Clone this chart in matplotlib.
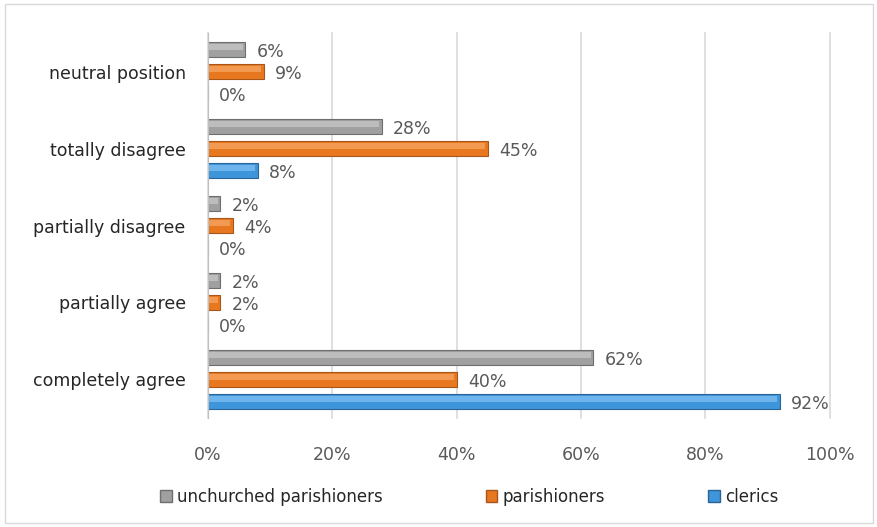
import matplotlib
matplotlib.use("Agg")
import matplotlib.pyplot as plt
import numpy as np
from matplotlib.patches import Patch, Rectangle

categories = ["completely agree", "partially agree", "partially disagree", "totally disagree", "neutral position"]
unchurched = [62, 2, 2, 28, 6]
parishioners = [40, 2, 4, 45, 9]
clerics = [92, 0, 0, 8, 0]
series_names = ["unchurched parishioners", "parishioners", "clerics"]
xticks = [0, 20, 40, 60, 80, 100]

colors = ["#A0A0A0", "#E8781F", "#3E95DA"]
lights = ["#BDBDBD", "#F39A52", "#6DB5EC"]
edges = ["#6E6E6E", "#A9561C", "#2C6496"]

fig = plt.figure(figsize=(8.77, 5.27), dpi=100)
ax = fig.add_axes([0.237, 0.207, 0.709, 0.730])

y = np.arange(len(categories))
off = 0.286
h = 0.2
series = [unchurched, parishioners, clerics]
offsets = [off, 0, -off]
for vals, o, c, lc, e in zip(series, offsets, colors, lights, edges):
    bars = ax.barh(y + o, vals, height=h, color=c, edgecolor=e, linewidth=0.8, zorder=3)
    ax.barh(y + o + h * 0.17, [max(v - 0.4, 0) for v in vals], height=h * 0.36, color=lc,
            linewidth=0, zorder=3.5)
    for b, v in zip(bars, vals):
        ax.text(v + 1.8, b.get_y() + b.get_height() / 2 - 0.03, f"{v}%", va="center", ha="left",
                fontsize=12.5, color="#595959", zorder=4)

ax.set_xlim(0, 100)
ax.set_ylim(-0.5, len(categories) - 0.5)
ax.set_xticks(xticks)
ax.set_xticklabels([f"{t}%" for t in xticks], fontsize=12.5, color="#595959")
ax.set_yticks(y)
ax.set_yticklabels(categories, fontsize=12.5, color="#262626")
ax.tick_params(axis="both", length=0)
ax.tick_params(axis="x", pad=20)
ax.tick_params(axis="y", pad=16)
ax.grid(axis="x", color="#D9D9D9", linewidth=1.2, zorder=0)
for line in ax.get_xgridlines():
    line.set_clip_on(False)
for s in ["top", "right", "bottom"]:
    ax.spines[s].set_visible(False)
ax.spines["left"].set_color("#BFBFBF")
ax.spines["left"].set_zorder(5)

handles = [Patch(facecolor=c, edgecolor=e) for c, e in zip(colors, edges)]
fig.legend(handles, series_names, loc="center", bbox_to_anchor=(0.535, 0.057), ncol=3,
           frameon=False, fontsize=12, handlelength=0.7, handleheight=0.7, handletextpad=0.3,
           columnspacing=6.2, labelcolor="#262626")

fig.patches.append(Rectangle((0.006, 0.008), 0.99, 0.985, transform=fig.transFigure,
                             fill=False, edgecolor="#D9D9D9", linewidth=1))

fig.savefig("out.png", dpi=100)
